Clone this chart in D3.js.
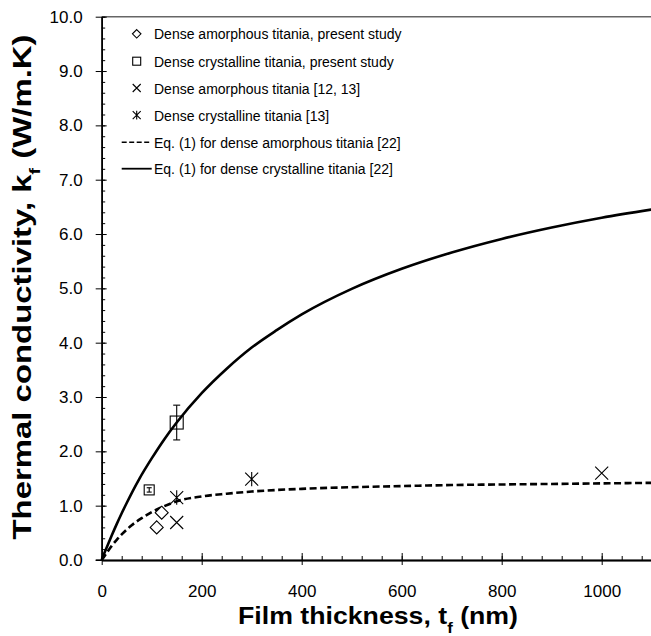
<!DOCTYPE html>
<html><head><meta charset="utf-8">
<script src="https://cdn.jsdelivr.net/npm/d3@7"></script>
<style>body{margin:0;background:#fff}svg{display:block}text{font-family:Arial,"Liberation Sans",sans-serif}</style>
</head><body>
<script>
// ---- data ----
const amorphPresent = [{t:110,k:0.60},{t:120,k:0.87}];
const crystPresent  = [{t:95,k:1.29,err:0.04},{t:150,k:2.53,err:0.32}];
const amorphLit     = [{t:150,k:0.69},{t:1000,k:1.60}];
const crystLit      = [{t:150,k:1.15},{t:300,k:1.49}];
const eqAmorphT = [0,10,20,30,40,50,60,80,100,125,150,200,250,300,400,500,600,700,800,900,1000,1100];
const eqAmorphK = [0,0.13,0.26,0.37,0.47,0.56,0.64,0.77,0.88,0.99,1.08,1.17,1.22,1.26,1.31,1.34,1.36,1.38,1.39,1.40,1.41,1.42];
const eqCrystT  = [0,5,10,20,30,40,50,75,100,125,150,200,250,300,350,400,500,600,700,800,900,1000,1100];
const eqCrystK  = [0,0.12,0.23,0.45,0.66,0.86,1.05,1.49,1.87,2.22,2.53,3.07,3.52,3.91,4.23,4.52,4.99,5.36,5.66,5.91,6.12,6.30,6.45];
const xMajor = [0,200,400,600,800,1000];
const yMajor = [0,1,2,3,4,5,6,7,8,9,10];
const legendLabels = [
  "Dense amorphous titania, present study",
  "Dense crystalline titania, present study",
  "Dense amorphous titania [12, 13]",
  "Dense crystalline titania [13]",
  "Eq. (1) for dense amorphous titania [22]",
  "Eq. (1) for dense crystalline titania [22]"
];

const W = 651, H = 636;
const svg = d3.select("body").append("svg").attr("width", W).attr("height", H);
const x = d3.scaleLinear().domain([0,1100]).range([101.7, 651.7]);
const y = d3.scaleLinear().domain([0,10]).range([560, 16.7]);

const xMinor = d3.range(0, 1101, 40);
const yMinor = d3.range(0, 10.001, 0.2).map(v => +v.toFixed(1));

// top border
svg.append("line").attr("x1", x(0)).attr("x2", W).attr("y1", y(10)).attr("y2", y(10))
  .attr("stroke", "#666").attr("stroke-width", 1.6);

// y axis
const gy = svg.append("g").attr("transform", `translate(${x(0)},0)`);
gy.call(d3.axisLeft(y).tickValues(yMajor).tickFormat(d3.format(".1f")).tickSize(6).tickPadding(13).tickSizeOuter(0));
gy.append("g").call(d3.axisRight(y).tickValues(yMinor).tickFormat("").tickSize(3.5).tickSizeOuter(0));
gy.append("g").call(d3.axisRight(y).tickValues(yMajor).tickFormat("").tickSize(5).tickSizeOuter(0));
gy.selectAll("path").attr("stroke", "#000").attr("stroke-width", 1.3);
gy.selectAll("line").attr("stroke", "#000").attr("stroke-width", 1);
gy.selectAll("text").attr("font-size", 17).attr("fill", "#000").attr("font-family", "Arial, 'Liberation Sans', sans-serif");

// x axis
const gx = svg.append("g").attr("transform", `translate(0,${y(0)})`);
gx.call(d3.axisBottom(x).tickValues(xMajor).tickFormat(d3.format("d")).tickSize(5).tickPadding(20).tickSizeOuter(0));
gx.append("g").call(d3.axisTop(x).tickValues(xMinor).tickFormat("").tickSize(4).tickSizeOuter(0));
gx.append("g").call(d3.axisTop(x).tickValues(xMajor).tickFormat("").tickSize(7).tickSizeOuter(0));
gx.selectAll("path").attr("stroke", "#000").attr("stroke-width", 1.3);
gx.selectAll("line").attr("stroke", "#000").attr("stroke-width", 1);
gx.selectAll("text").attr("font-size", 17).attr("fill", "#000").attr("font-family", "Arial, 'Liberation Sans', sans-serif");
svg.append("line").attr("x1", x(0)-6).attr("x2", x(0)).attr("y1", y(0)).attr("y2", y(0)).attr("stroke","#000").attr("stroke-width",1.3);

// curves
const line = d3.line().x(d => x(d[0])).y(d => y(d[1])).curve(d3.curveMonotoneX);
const plot = svg.append("g");
plot.append("path").datum(eqCrystT.map((t,i)=>[t,eqCrystK[i]]))
  .attr("d", line).attr("fill","none").attr("stroke","#000").attr("stroke-width",2.6);
plot.append("path").datum(eqAmorphT.map((t,i)=>[t,eqAmorphK[i]]))
  .attr("d", line).attr("fill","none").attr("stroke","#000").attr("stroke-width",2.6)
  .attr("stroke-dasharray","7,3.5");

// marker painters
function diamond(g, cx, cy, s){ const h=s/2; g.append("path").attr("d",`M${cx},${cy-h}L${cx+h},${cy}L${cx},${cy+h}L${cx-h},${cy}Z`).attr("fill","#fff").attr("stroke","#000").attr("stroke-width",1.1); }
function square(g, cx, cy, s){ g.append("rect").attr("x",cx-s/2).attr("y",cy-s/2).attr("width",s).attr("height",s).attr("fill","none").attr("stroke","#000").attr("stroke-width",1.1); }
function cross(g, cx, cy, s){ const h=s/2; g.append("path").attr("d",`M${cx-h},${cy-h}L${cx+h},${cy+h}M${cx-h},${cy+h}L${cx+h},${cy-h}`).attr("stroke","#000").attr("stroke-width",1.1); }
function star(g, cx, cy, s){ const h=s/2; g.append("path").attr("d",`M${cx-h},${cy-h}L${cx+h},${cy+h}M${cx-h},${cy+h}L${cx+h},${cy-h}M${cx},${cy-h*1.1}L${cx},${cy+h*1.1}`).attr("stroke","#000").attr("stroke-width",1.1); }

// error bars
crystPresent.forEach(d => {
  const cap = d.err > 0.1 ? 3.5 : 2.5;
  const g = plot.append("g").attr("stroke","#000").attr("stroke-width",1.1);
  g.append("line").attr("x1",x(d.t)).attr("x2",x(d.t)).attr("y1",y(d.k-d.err)).attr("y2",y(d.k+d.err));
  g.append("line").attr("x1",x(d.t)-cap).attr("x2",x(d.t)+cap).attr("y1",y(d.k-d.err)).attr("y2",y(d.k-d.err));
  g.append("line").attr("x1",x(d.t)-cap).attr("x2",x(d.t)+cap).attr("y1",y(d.k+d.err)).attr("y2",y(d.k+d.err));
});
crystPresent.forEach(d => square(plot, x(d.t), y(d.k), d.err > 0.1 ? 13 : 10));
amorphPresent.forEach(d => diamond(plot, x(d.t), y(d.k), 13));
amorphLit.forEach(d => cross(plot, x(d.t), y(d.k), 13));
crystLit.forEach(d => star(plot, x(d.t), y(d.k), 13));

// legend
const lg = svg.append("g");
const baselines = [39.3, 66.7, 93.5, 120.7, 147.7, 174.2];
legendLabels.forEach((lab, i) => {
  lg.append("text").attr("x", 154).attr("y", baselines[i]).attr("font-size", 14).text(lab);
  const cy = baselines[i] - 5.5, cx = 136.7;
  if (i === 0) diamond(lg, cx, cy, 8.5);
  if (i === 1) square(lg, cx, cy, 8);
  if (i === 2) cross(lg, cx, cy, 8);
  if (i === 3) star(lg, cx, cy, 8);
  if (i === 4) lg.append("line").attr("x1",121.7).attr("x2",151.7).attr("y1",cy).attr("y2",cy).attr("stroke","#000").attr("stroke-width",1.6).attr("stroke-dasharray","5,2.5");
  if (i === 5) lg.append("line").attr("x1",121.7).attr("x2",151.7).attr("y1",cy).attr("y2",cy).attr("stroke","#000").attr("stroke-width",1.8);
});

// axis titles
const xt = svg.append("text").attr("x", 378).attr("y", 624).attr("text-anchor","middle")
  .attr("font-size", 24).attr("font-weight","bold")
  .attr("textLength", 280).attr("lengthAdjust", "spacingAndGlyphs");
xt.append("tspan").text("Film thickness, t");
xt.append("tspan").attr("font-size", 15).attr("baseline-shift","sub").text("f");
xt.append("tspan").text(" (nm)");

const yt = svg.append("text").attr("transform", "translate(31,287) rotate(-90)").attr("text-anchor","middle")
  .attr("font-size", 25).attr("font-weight","bold")
  .attr("textLength", 505).attr("lengthAdjust", "spacingAndGlyphs");
yt.append("tspan").text("Thermal conductivity, k");
yt.append("tspan").attr("font-size", 15).attr("baseline-shift","sub").text("f");
yt.append("tspan").text(" (W/m.K)");
</script>
</body></html>
